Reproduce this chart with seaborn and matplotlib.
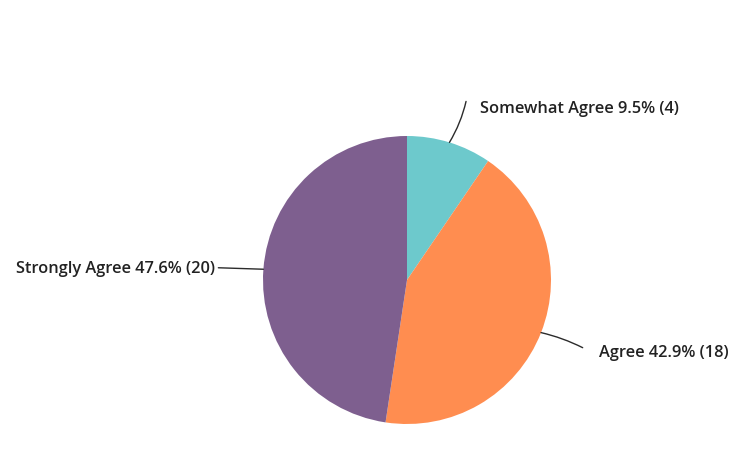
import numpy as np
import matplotlib.pyplot as plt
import seaborn as sns

# answers and counts
labels = ['Somewhat Agree', 'Agree', 'Strongly Agree']
counts = [4, 18, 20]
colors = ['#6dc9cc', '#ff8d50', '#7e5f8f']

sns.set_style('white')
plt.rcParams['font.family'] = ['Open Sans', 'DejaVu Sans']

fig = plt.figure(figsize=(7.54, 4.63), dpi=100)
ax = fig.add_axes([263 / 754, 39 / 463, 288 / 754, 288 / 463])

wedges, _ = ax.pie(counts, colors=colors, startangle=90, counterclock=False,
                   radius=1, wedgeprops=dict(linewidth=0))
ax.set_xlim(-1, 1)
ax.set_ylim(-1, 1)
ax.set_aspect('auto')
ax.axis('off')

total = sum(counts)
# where each label sits (text anchor, line end) in axes data units
text_pos = [(0.51, 1.19), (1.33, -0.505), (-1.335, 0.075)]
line_end = [(0.41, 1.24), (1.22, -0.47), (-1.31, 0.085)]
aligns = ['left', 'left', 'right']
rads = [-0.08, 0.06, 0.0]

for w, lab, c, tp, le, ha, rad in zip(wedges, labels, counts, text_pos, line_end, aligns, rads):
    mid = np.deg2rad((w.theta1 + w.theta2) / 2)
    xy = (np.cos(mid), np.sin(mid))
    ax.annotate('', xy=xy, xytext=le,
                arrowprops=dict(arrowstyle='-', color='#2b2b2b', lw=1,
                                connectionstyle=f'arc3,rad={rad}', shrinkA=0, shrinkB=0),
                annotation_clip=False)
    ax.text(tp[0], tp[1], f'{lab} {c / total * 100:.1f}% ({c})', ha=ha, va='center',
            fontsize=11.8, fontweight='semibold', color='#222222', clip_on=False)

plt.savefig('out.png', dpi=100)
